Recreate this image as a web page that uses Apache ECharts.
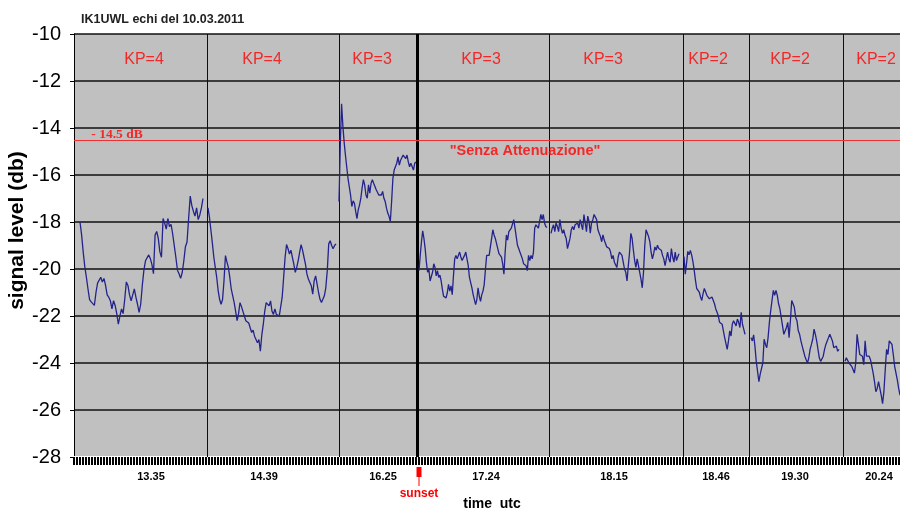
<!DOCTYPE html>
<html><head><meta charset="utf-8">
<script src="https://cdn.jsdelivr.net/npm/echarts@6/dist/echarts.min.js"></script>
<style>html,body{margin:0;padding:0;background:#fff}#c{width:900px;height:512px}</style>
</head><body><div id="c"></div>
<script>
const chartTitle = 'IK1UWL echi del 10.03.2011';
const yMin = -28, yMax = -10, yStep = 2;
const xMax = 826;
const zoneEdges = [133, 265, 343.5, 475, 609, 675, 769];
const sunsetEdgeIndex = 2;
const kpLabels = ['KP=4','KP=4','KP=3','KP=3','KP=3','KP=2','KP=2','KP=2'];
const kpPos = [70, 188, 298, 407, 529, 634, 716, 802];
const kpLevel = -11.1;
const timeLabels = ['13.35','14.39','16.25','17.24','18.15','18.46','19.30','20.24'];
const timePos = [77, 190, 309, 412, 540, 642, 721, 805];
const refLevel = -14.5;
const refLabel = '- 14.5 dB';
const refLabelPos = [43, -14.28];
const noteLabel = '"Senza Attenuazione"';
const notePos = [451, -14.98];
const sunsetPos = 345;
const segStart = [6, 134, 265, 345, 477, 610, 677, 771];
const segEnd = [129, 262, 342, 473, 605, 671, 765, 826];
const seg1 = [-18.0,-18.55,-19.27,-19.9,-20.35,-20.85,-21.3,-21.4,-21.35,-21.55,-21.0,-20.6,-20.55,-20.35,-20.55,-20.4,-20.7,-21.1,-21.2,-21.35,-21.7,-21.35,-21.55,-21.9,-22.35,-22.0,-21.7,-21.9,-21.3,-20.55,-20.7,-21.1,-21.35,-21.1,-20.85,-21.2,-21.5,-21.85,-21.5,-20.7,-20.05,-19.65,-19.6,-19.4,-19.55,-19.8,-20.2,-18.55,-18.4,-18.7,-19.27,-19.5,-17.85,-18.05,-18.3,-17.85,-18.2,-18.1,-18.5,-19.0,-19.5,-20.05,-20.2,-20.4,-20.15,-19.65,-19.05,-18.85,-17.85,-16.9,-17.3,-17.55,-17.75,-17.4,-17.9,-17.7,-17.4,-17.0];
const seg2 = [-17.4,-17.8,-18.35,-18.9,-19.5,-19.93,-20.36,-20.93,-21.3,-21.5,-21.3,-20.5,-19.43,-19.7,-19.93,-20.36,-20.86,-21.14,-21.43,-21.8,-22.2,-21.9,-21.43,-21.6,-21.67,-22.0,-22.2,-22.14,-22.3,-22.5,-22.7,-22.6,-22.86,-23.0,-23.14,-23.0,-23.5,-22.8,-22.36,-21.8,-21.43,-21.36,-21.57,-21.36,-21.8,-21.93,-21.7,-21.93,-21.86,-22.0,-22.07,-21.2,-20.36,-19.5,-18.96,-19.14,-19.36,-19.2,-19.5,-19.79,-20.14,-19.93,-19.64,-19.29,-18.96,-19.2,-19.5,-19.79,-20.21,-20.43,-20.57,-20.71,-21.07,-20.5,-20.29,-20.64,-21.0,-21.29,-21.43,-21.36,-21.14,-20.79,-20.07,-18.93,-18.8,-19.0,-19.14,-19.0,-18.93];
const seg3 = [-17.13,-14.73,-12.97,-13.9,-14.6,-15.15,-15.65,-16.14,-16.5,-16.85,-17.34,-17.1,-17.2,-17.55,-17.86,-17.48,-17.27,-16.99,-16.56,-16.2,-16.42,-16.85,-16.99,-16.42,-16.77,-16.35,-16.2,-16.35,-16.49,-16.63,-16.7,-16.85,-16.77,-16.85,-16.7,-16.99,-17.13,-17.41,-17.62,-17.76,-17.97,-17.13,-16.14,-15.79,-15.72,-15.5,-15.23,-15.58,-15.37,-15.44,-15.15,-15.08,-15.3,-15.15,-15.44,-15.65,-15.5,-15.58,-15.79,-15.5,-15.44];
const seg4 = [-20.07,-19.42,-18.84,-18.38,-18.7,-19.13,-19.71,-20.14,-20.0,-20.51,-20.58,-20.14,-19.78,-19.93,-20.29,-20.07,-20.36,-20.26,-20.51,-20.87,-21.16,-21.09,-21.23,-21.01,-20.65,-20.94,-20.72,-21.09,-20.29,-19.57,-19.42,-19.57,-19.42,-19.28,-19.49,-19.64,-19.57,-19.42,-19.28,-19.57,-19.86,-20.36,-20.58,-20.8,-21.09,-21.3,-21.52,-21.3,-20.8,-21.16,-21.38,-21.09,-20.94,-20.65,-20.0,-19.42,-19.49,-19.42,-19.06,-18.7,-18.33,-18.55,-18.7,-18.62,-19.13,-19.35,-19.28,-19.49,-19.78,-20.22,-19.28,-18.55,-18.77,-18.41,-18.33,-18.26,-18.19,-17.9,-18.26,-18.62,-18.99,-19.13,-19.28,-19.35,-19.57,-19.78,-19.71,-19.86,-20.07,-19.42,-19.64,-19.42,-19.57,-19.28,-18.26,-18.12,-18.19,-18.26,-17.97,-17.68,-17.9,-17.68,-18.04,-18.19,-18.23];
const seg5 = [-18.48,-18.26,-18.12,-18.41,-18.04,-18.19,-18.41,-17.9,-18.26,-18.48,-18.33,-18.55,-18.7,-19.13,-19.2,-18.7,-18.33,-18.19,-18.33,-18.12,-18.19,-18.04,-18.26,-17.9,-18.12,-18.33,-17.68,-18.04,-18.41,-17.75,-17.97,-18.48,-18.04,-17.9,-17.68,-17.75,-17.9,-18.33,-18.48,-18.62,-18.84,-18.55,-18.77,-18.7,-19.06,-19.13,-19.13,-19.28,-19.57,-19.42,-19.71,-19.78,-19.93,-19.49,-19.28,-19.28,-19.42,-19.71,-20.0,-20.14,-20.51,-19.86,-19.28,-18.48,-18.7,-19.2,-19.64,-19.93,-19.57,-19.86,-20.14,-20.43,-20.8,-20.14,-18.99,-18.33,-18.41,-18.62,-18.84,-19.28,-19.57,-19.35,-19.06,-19.2,-18.99,-19.13,-19.06,-19.2,-19.42,-19.57,-19.86,-19.78,-19.28,-19.57,-19.71,-19.13,-19.49,-19.71,-19.28,-19.64,-19.49,-19.35];
const seg6 = [-19.47,-20.22,-19.76,-19.25,-19.4,-19.21,-19.4,-19.68,-20.04,-20.47,-20.83,-20.76,-20.98,-21.19,-21.34,-21.05,-20.83,-20.9,-21.12,-21.05,-21.27,-21.34,-21.19,-21.17,-21.48,-21.7,-21.84,-21.99,-22.27,-22.27,-22.35,-22.63,-22.92,-22.99,-23.42,-23.06,-22.63,-22.85,-22.35,-22.2,-22.13,-22.42,-22.13,-22.27,-22.49,-21.84,-22.35,-22.56,-22.78];
const seg7 = [-22.92,-23.06,-22.8,-23.28,-23.93,-24.36,-24.79,-24.47,-24.5,-24.0,-22.99,-23.21,-23.35,-22.92,-22.27,-21.77,-21.34,-20.91,-21.12,-20.91,-21.12,-21.48,-21.7,-22.06,-22.42,-22.78,-22.85,-22.49,-22.27,-22.92,-22.2,-21.34,-21.41,-21.63,-22.06,-22.2,-22.63,-22.78,-23.06,-23.28,-23.5,-23.71,-23.86,-24.0,-23.78,-23.42,-23.21,-22.99,-22.56,-22.78,-23.06,-23.42,-23.78,-23.93,-24.0,-23.71,-23.42,-23.21,-23.06,-22.92,-22.78,-22.85,-23.06,-23.35,-23.42,-23.28,-23.5,-23.42];
const seg8 = [-23.93,-23.78,-23.71,-24.0,-23.93,-24.14,-24.07,-24.43,-24.0,-22.78,-23.21,-23.64,-23.57,-23.71,-24.07,-23.06,-23.71,-23.64,-23.71,-23.86,-24.14,-24.43,-24.79,-25.22,-25.08,-24.79,-25.08,-25.37,-25.73,-25.22,-24.29,-23.42,-23.64,-23.06,-22.99,-23.21,-23.64,-24.14,-24.43,-24.72,-25.08,-25.37];
const segments = [seg1, seg2, seg3, seg4, seg5, seg6, seg7, seg8];

const LINE = '#23238c';
const RED = '#ff0000';
const FONT = 'Arial, "Liberation Sans", sans-serif';

const chart = echarts.init(document.getElementById('c'), null, {renderer: 'canvas'});

const lineSeries = segments.map((vals, k) => {
  const s = segStart[k], e = segEnd[k], n = vals.length;
  return {
    type: 'line', silent: true, animation: false, showSymbol: false, symbol: 'none',
    data: vals.map((v, i) => [s + i * (e - s) / (n - 1), v]),
    lineStyle: {color: LINE, width: 1.3}, z: 5
  };
});

lineSeries[0].markLine = {
  silent: true, symbol: 'none', animation: false, label: {show: false},
  data: zoneEdges.map((x, i) => ({
    xAxis: x,
    lineStyle: i === sunsetEdgeIndex ? {color: '#000', width: 3, type: 'solid'} : {color: '#00007a', width: 1, type: 'solid'}
  })).concat([{yAxis: refLevel, lineStyle: {color: '#f03030', width: 1, type: 'solid'}}])
};

const option = {
  animation: false,
  backgroundColor: '#fff',
  title: {text: chartTitle, left: 76, top: 8, textStyle: {fontSize: 12.5, fontWeight: 'bold', color: '#222', fontFamily: FONT}},
  grid: {left: 74, right: 0, top: 34, bottom: 55, show: true, backgroundColor: '#c0c0c0', borderWidth: 0, containLabel: false, outerBoundsMode: 'none'},
  xAxis: {
    type: 'value', min: 0, max: xMax, interval: 3,
    name: 'time  utc', nameLocation: 'middle', nameGap: 40, nameMoveOverlap: false,
    nameTextStyle: {fontSize: 14, fontWeight: 'bold', color: '#000', fontFamily: FONT, padding: [0, 0, 0, 10]},
    axisLine: {show: true, lineStyle: {color: '#fff', width: 2}},
    axisTick: {show: true, length: 8, lineStyle: {color: '#000', width: 2}},
    splitLine: {show: false},
    axisLabel: {
      show: true, customValues: timePos, margin: 14,
      fontSize: 11, fontWeight: 'bold', color: '#000', fontFamily: FONT,
      formatter: v => { const i = timePos.indexOf(v); return i >= 0 ? timeLabels[i] : ''; }
    }
  },
  yAxis: {
    type: 'value', min: yMin, max: yMax, interval: yStep,
    name: 'signal level (db)', nameLocation: 'middle', nameGap: 46, nameMoveOverlap: false,
    nameTextStyle: {fontSize: 21, fontWeight: 'bold', color: '#000', fontFamily: FONT, padding: [0, 0, 0, 30]},
    axisLine: {show: true, lineStyle: {color: '#000', width: 1}},
    axisTick: {show: true, length: 4, lineStyle: {color: '#000'}},
    splitLine: {show: true, lineStyle: {color: '#111', width: 1.5}},
    axisLabel: {fontSize: 20, color: '#000', margin: 13, fontFamily: FONT}
  },
  series: lineSeries.concat([
    {
      type: 'scatter', silent: true, symbolSize: 0, z: 6,
      data: kpPos.map((x, i) => ({value: [x, kpLevel], name: kpLabels[i]})),
      label: {show: true, position: 'inside', formatter: p => p.name, color: RED, fontSize: 16, fontFamily: FONT}
    },
    {
      type: 'scatter', silent: true, symbolSize: 0, z: 6,
      data: [{value: refLabelPos, name: refLabel}],
      label: {show: true, position: 'inside', formatter: p => p.name, color: RED, fontSize: 13.5, fontWeight: 'bold', fontFamily: '"Liberation Serif", "Times New Roman", serif'}
    },
    {
      type: 'scatter', silent: true, symbolSize: 0, z: 6,
      data: [{value: notePos, name: noteLabel}],
      label: {show: true, position: 'inside', formatter: p => p.name, color: RED, fontSize: 14.5, fontWeight: 'bold', fontFamily: FONT}
    }
  ])
};
chart.setOption(option);

const sx = chart.convertToPixel({xAxisIndex: 0}, sunsetPos);
const sy = chart.convertToPixel({yAxisIndex: 0}, yMin);
chart.setOption({
  graphic: [
    {type: 'rect', shape: {x: sx - 2.5, y: sy + 10, width: 5, height: 10}, style: {fill: RED}, silent: true},
    {type: 'line', shape: {x1: sx, y1: sy + 20, x2: sx, y2: sy + 29}, style: {stroke: RED, lineWidth: 1}, silent: true},
    {type: 'text', x: sx, y: sy + 37, style: {text: 'sunset', fill: RED, font: 'bold 12px ' + FONT, align: 'center', verticalAlign: 'middle'}, silent: true}
  ]
});
</script></body></html>
